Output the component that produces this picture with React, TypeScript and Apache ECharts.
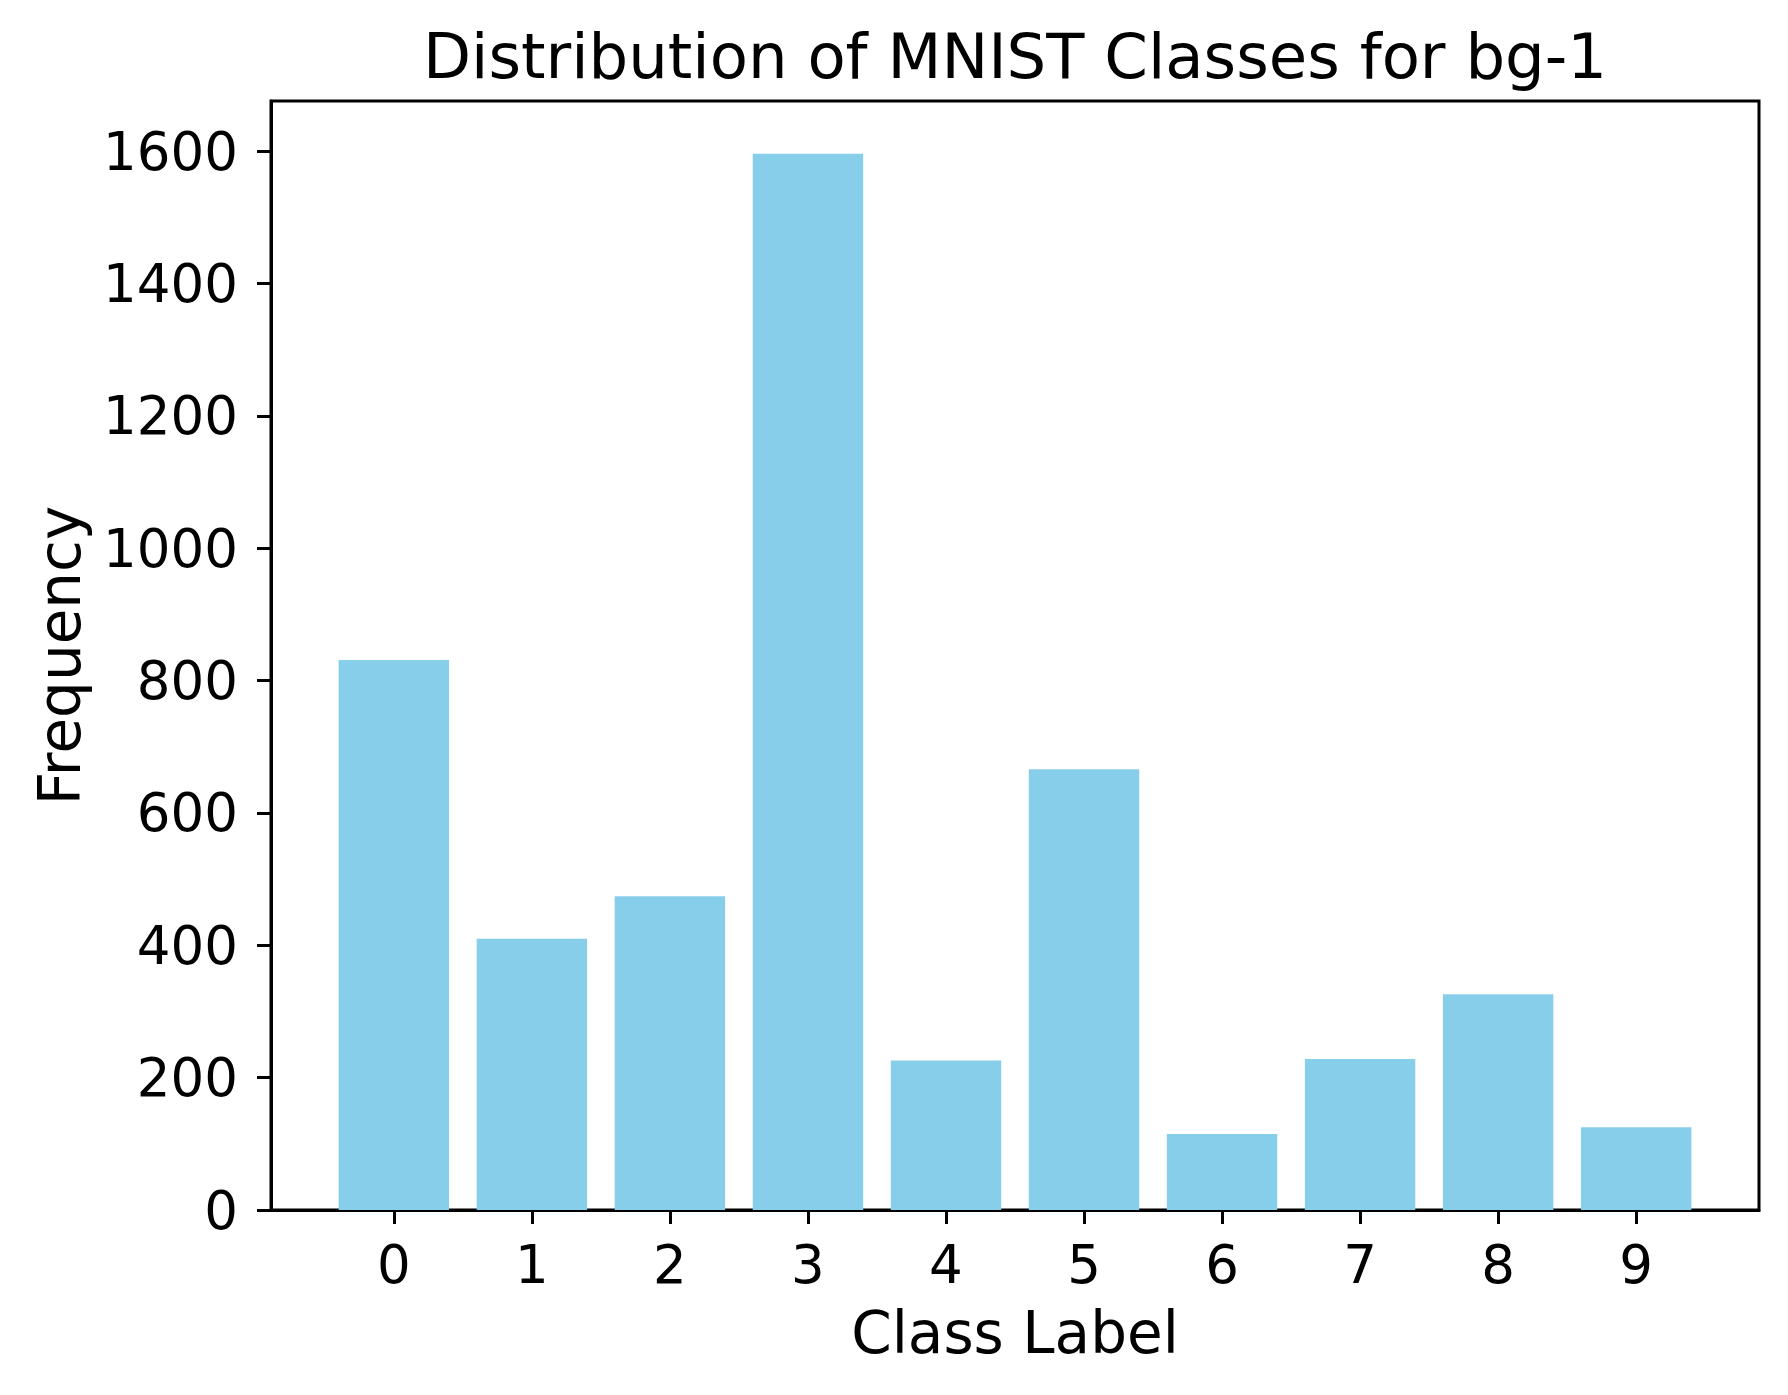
import React, { useEffect, useRef } from "react";
import * as echarts from "echarts";

const categories = ["0", "1", "2", "3", "4", "5", "6", "7", "8", "9"];
const frequencies = [831, 410, 474, 1596, 226, 666, 115, 228, 326, 125];
const yTickValues = [0, 200, 400, 600, 800, 1000, 1200, 1400, 1600];
const xTickValues = [0, 1, 2, 3, 4, 5, 6, 7, 8, 9];
const titleText = "Distribution of MNIST Classes for bg-1";
const xLabelText = "Class Label";
const yLabelText = "Frequency";

const W = 1788;
const H = 1395;
const GRID = { left: 271, top: 101, width: 1488, height: 1109 };
const FONT = "'DejaVu Sans', 'Noto Sans', sans-serif";

export default function App() {
  const ref = useRef<HTMLDivElement>(null);
  useEffect(() => {
    if (!ref.current) return;
    const chart = echarts.init(ref.current, null, { renderer: "svg" });
    const barHalf = 0.4;
    const n = categories.length;
    const span = n - 1 + 2 * barHalf;
    const xmin = -barHalf - 0.05 * span;
    const xmax = n - 1 + barHalf + 0.05 * span;
    const ymax = Math.max(...frequencies) * 1.05;
    const barPx = (GRID.width / (xmax - xmin)) * 0.8;
    const cx = GRID.left + GRID.width / 2;
    const cy = GRID.top + GRID.height / 2;
    chart.setOption({
      animation: false,
      backgroundColor: "#ffffff",
      grid: {
        left: GRID.left,
        top: GRID.top,
        width: GRID.width,
        height: GRID.height,
        show: true,
        borderColor: "#000000",
        borderWidth: 3,
        backgroundColor: "transparent",
        containLabel: false,
      },
      xAxis: {
        type: "value",
        min: xmin,
        max: xmax,
        axisLine: { show: true, onZero: false, lineStyle: { color: "#000", width: 3 } },
        axisTick: {
          show: true,
          inside: false,
          length: 14,
          lineStyle: { color: "#000", width: 3 },
          customValues: xTickValues,
        },
        axisLabel: {
          show: true,
          margin: 28,
          fontSize: 53,
          fontFamily: FONT,
          color: "#000",
          customValues: xTickValues,
          formatter: (v: number) => categories[Math.round(v)] ?? String(v),
        },
        splitLine: { show: false },
      },
      yAxis: {
        type: "value",
        min: 0,
        max: ymax,
        axisLine: { show: true, onZero: false, lineStyle: { color: "#000", width: 3 } },
        axisTick: {
          show: true,
          inside: false,
          length: 14,
          lineStyle: { color: "#000", width: 3 },
          customValues: yTickValues,
        },
        axisLabel: {
          show: true,
          margin: 33,
          fontSize: 53,
          fontFamily: FONT,
          color: "#000",
          customValues: yTickValues,
          formatter: (v: number) => String(Math.round(v)),
        },
        splitLine: { show: false },
      },
      series: [
        {
          type: "bar",
          data: frequencies.map((v, i) => [i, v]),
          barWidth: barPx,
          itemStyle: { color: "#87CEEB" },
          z: 1,
        },
      ],
      graphic: [
        {
          type: "text",
          x: cx,
          y: 56,
          style: {
            text: titleText,
            font: `62.5px ${FONT}`,
            fill: "#000",
            align: "center",
            verticalAlign: "middle",
          },
        },
        {
          type: "text",
          x: cx,
          y: 1333,
          style: {
            text: xLabelText,
            font: `58px ${FONT}`,
            fill: "#000",
            align: "center",
            verticalAlign: "middle",
          },
        },
        {
          type: "text",
          x: 60,
          y: cy,
          rotation: Math.PI / 2,
          style: {
            text: yLabelText,
            font: `58px ${FONT}`,
            fill: "#000",
            align: "center",
            verticalAlign: "middle",
          },
        },
      ],
    });
    return () => chart.dispose();
  }, []);
  return (
    <div
      ref={ref}
      style={{ position: "absolute", left: 0, top: 0, width: W, height: H, background: "#fff" }}
    />
  );
}
